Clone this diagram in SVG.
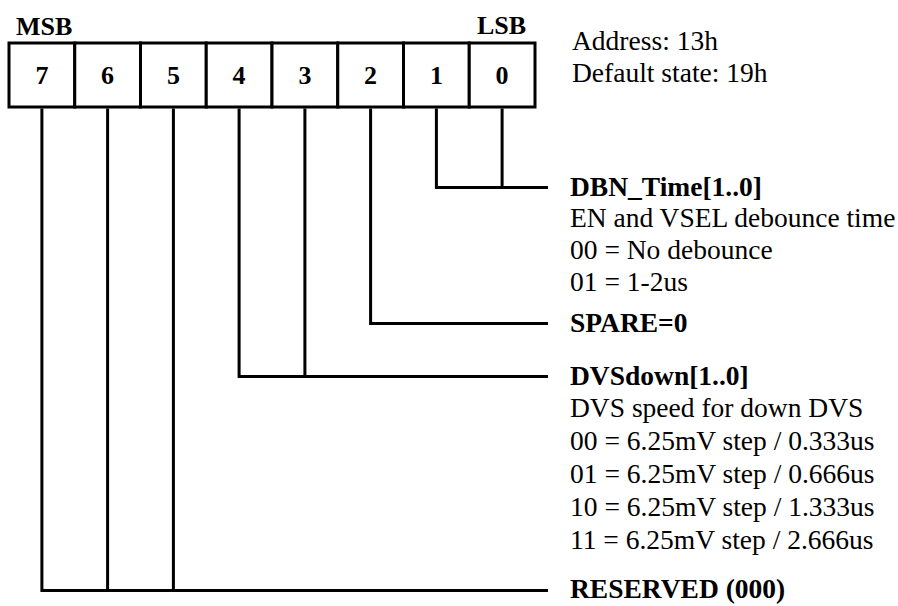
<svg xmlns="http://www.w3.org/2000/svg" width="898" height="606" viewBox="0 0 898 606">
<style>
text{font-family:"Liberation Serif","Times New Roman",serif;fill:#000}
.b{font-weight:bold}
.hd{font-size:26px;font-weight:bold}
.dg{font-size:26px;font-weight:bold;text-anchor:middle}
.t{font-size:27.5px}
.cell{fill:#fff;stroke:#000;stroke-width:3}
.ln{fill:none;stroke:#000;stroke-width:3}
</style>
<rect width="898" height="606" fill="#fff"/>
<text class="hd" x="16" y="35">MSB</text>
<text class="hd" x="477" y="34">LSB</text>
<g id="register">
<g id="bit7"><rect class="cell" x="9" y="43" width="65.75" height="64"/><text class="dg" x="41.9" y="84">7</text></g>
<g id="bit6"><rect class="cell" x="74.75" y="43" width="65.75" height="64"/><text class="dg" x="107.6" y="84">6</text></g>
<g id="bit5"><rect class="cell" x="140.5" y="43" width="65.75" height="64"/><text class="dg" x="173.4" y="84">5</text></g>
<g id="bit4"><rect class="cell" x="206.25" y="43" width="65.75" height="64"/><text class="dg" x="239.1" y="84">4</text></g>
<g id="bit3"><rect class="cell" x="272" y="43" width="65.75" height="64"/><text class="dg" x="304.9" y="84">3</text></g>
<g id="bit2"><rect class="cell" x="337.75" y="43" width="65.75" height="64"/><text class="dg" x="370.6" y="84">2</text></g>
<g id="bit1"><rect class="cell" x="403.5" y="43" width="65.75" height="64"/><text class="dg" x="436.4" y="84">1</text></g>
<g id="bit0"><rect class="cell" x="469.25" y="43" width="65.75" height="64"/><text class="dg" x="502.1" y="84">0</text></g>
</g>
<g id="info">
<text class="t" x="572" y="50">Address: 13h</text>
<text class="t" x="572" y="82">Default state: 19h</text>
</g>
<g id="connectors">
<path class="ln" d="M436.4 108.5V187.5M502.1 108.5V187.5M434.9 187.5H548"/>
<path class="ln" d="M370.6 108.5V323.5H548"/>
<path class="ln" d="M239.1 108.5V376.5H548M304.9 108.5V376.5"/>
<path class="ln" d="M41.9 108.5V590.5H548M107.6 108.5V590.5M173.4 108.5V590.5"/>
</g>
<g id="dbn">
<text class="t b" x="570" y="196">DBN_Time[1..0]</text>
<text class="t" x="570" y="227">EN and VSEL debounce time</text>
<text class="t" x="570" y="259">00 = No debounce</text>
<text class="t" x="570" y="291">01 = 1-2us</text>
</g>
<g id="spare">
<text class="t b" x="570" y="332">SPARE=0</text>
</g>
<g id="dvsdown">
<text class="t b" x="570" y="385">DVSdown[1..0]</text>
<text class="t" x="570" y="417">DVS speed for down DVS</text>
<text class="t" x="570" y="450">00 = 6.25mV step / 0.333us</text>
<text class="t" x="570" y="483">01 = 6.25mV step / 0.666us</text>
<text class="t" x="570" y="516">10 = 6.25mV step / 1.333us</text>
<text class="t" x="570" y="549">11 = 6.25mV step / 2.666us</text>
</g>
<g id="reserved">
<text class="t b" x="570" y="598">RESERVED (000)</text>
</g>
</svg>
